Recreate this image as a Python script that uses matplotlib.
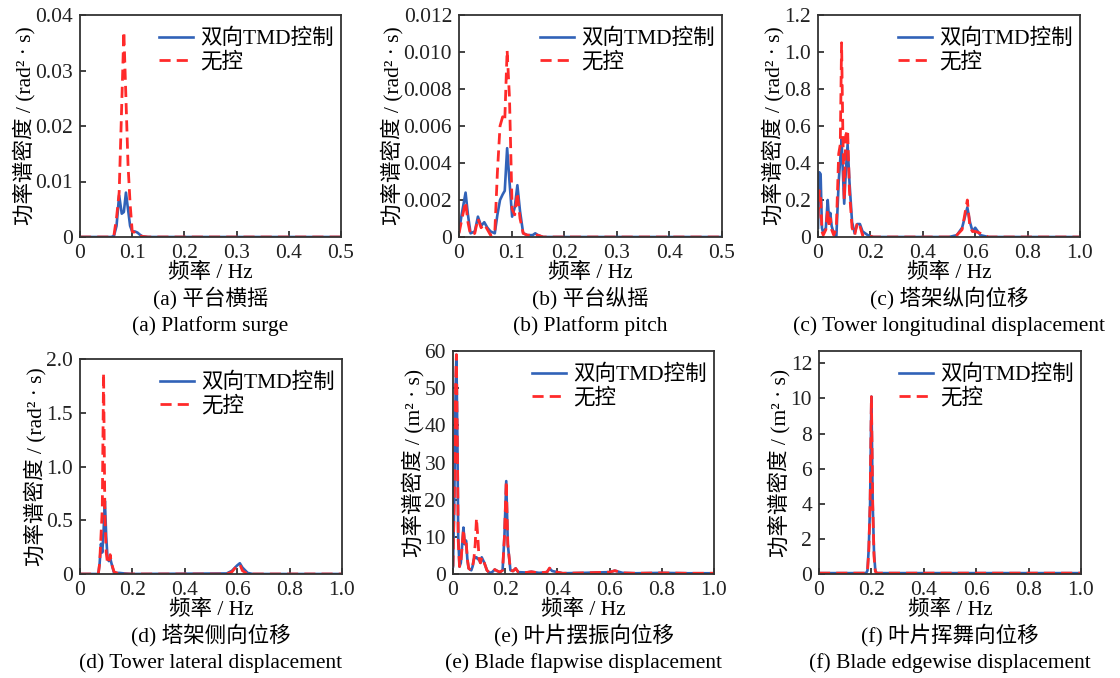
import numpy as np
import matplotlib
matplotlib.use("Agg")
import matplotlib.pyplot as plt

plt.rcParams['font.family'] = ['Liberation Serif', 'Noto Sans CJK SC']
plt.rcParams['axes.unicode_minus'] = False

# ---- 数据 ----
# (a) 平台横摇
fa = [0, 0.06, 0.065, 0.07, 0.075, 0.08, 0.084, 0.088, 0.092, 0.096, 0.1, 0.105, 0.11, 0.115, 0.12, 0.13, 0.5]
a_tmd = [0, 0, 0.0002, 0.002, 0.0075, 0.0042, 0.0045, 0.008, 0.005, 0.002, 0.001, 0.001, 0.0008, 0.0004, 0.0001, 0, 0]
a_unc = [0, 0, 0.0003, 0.0035, 0.008, 0.024, 0.037, 0.025, 0.013, 0.006, 0.001, 0.0008, 0.0004, 0.0002, 0.0001, 0, 0]

# (b) 平台纵摇
fb = [0, 0.005, 0.0125, 0.017, 0.022, 0.03, 0.036, 0.042, 0.048, 0.054, 0.06, 0.068, 0.073, 0.078, 0.083, 0.087,
      0.0915, 0.096, 0.101, 0.106, 0.111, 0.116, 0.122, 0.13, 0.14, 0.145, 0.15, 0.16, 0.5]
b_tmd = [0.0003, 0.0012, 0.0024, 0.0012, 0.0002, 0.0003, 0.0011, 0.0006, 0.0008, 0.0005, 0.0003, 0.0002, 0.0012, 0.002, 0.0023,
         0.0025, 0.0048, 0.003, 0.0011, 0.0016, 0.0028, 0.0014, 0.0002, 0.0001, 0.0001, 0.0002, 0.0001, 0, 0]
b_unc = [0.0002, 0.0009, 0.0019, 0.0008, 0.0001, 0.0002, 0.001, 0.0005, 0.0007, 0.0004, 0.0001, 0.0002, 0.0035, 0.006, 0.0065,
         0.0063, 0.0101, 0.0075, 0.0015, 0.0012, 0.0024, 0.001, 0.0002, 0.0001, 0.0001, 0.0001, 0.0001, 0, 0]

# (c) 塔架纵向位移
fc = [0, 0.005, 0.01, 0.015, 0.02, 0.03, 0.037, 0.042, 0.047, 0.052, 0.06, 0.07, 0.079, 0.085, 0.09, 0.095, 0.1,
      0.106, 0.113, 0.12, 0.13, 0.14, 0.15, 0.16, 0.17, 0.19, 0.21, 0.5, 0.53, 0.55, 0.57, 0.58, 0.59, 0.6, 0.62, 0.65, 1.0]
c_tmd = [0.05, 0.35, 0.34, 0.05, 0.02, 0.05, 0.2, 0.1, 0.13, 0.06, 0.02, 0.0, 0.3, 0.42, 0.53, 0.35, 0.18,
         0.35, 0.5, 0.3, 0.08, 0.02, 0.07, 0.07, 0.03, 0.01, 0, 0, 0.01, 0.05, 0.16, 0.08, 0.03, 0.05, 0.01, 0, 0]
c_unc = [0.1, 0.25, 0.22, 0.03, 0.01, 0.04, 0.15, 0.05, 0.1, 0.04, 0.01, 0.05, 0.45, 0.5, 1.05, 0.55, 0.2,
         0.55, 0.58, 0.25, 0.05, 0.01, 0.08, 0.06, 0.01, 0.01, 0, 0, 0.01, 0.04, 0.2, 0.05, 0.03, 0.03, 0.02, 0, 0]

# (d) 塔架侧向位移
fd = [0, 0.07, 0.075, 0.08, 0.085, 0.09, 0.095, 0.1, 0.105, 0.11, 0.115, 0.12, 0.13, 0.15, 0.17, 0.2,
      0.56, 0.58, 0.6, 0.61, 0.62, 0.64, 0.66, 1.0]
d_tmd = [0, 0, 0.1, 0.28, 0.2, 0.4, 0.68, 0.35, 0.15, 0.12, 0.15, 0.1, 0.01, 0.01, 0.005, 0,
         0.005, 0.03, 0.08, 0.1, 0.06, 0.01, 0, 0]
d_unc = [0, 0, 0.1, 0.35, 0.6, 1.87, 0.55, 0.2, 0.1, 0.1, 0.18, 0.1, 0.02, 0, 0, 0,
         0, 0.02, 0.08, 0.09, 0.03, 0, 0, 0]

# (e) 叶片摆振向位移
fe = [0, 0.005, 0.01, 0.013, 0.017, 0.02, 0.025, 0.03, 0.04, 0.045, 0.05, 0.055, 0.06, 0.07, 0.075, 0.08, 0.085, 0.09,
      0.095, 0.1, 0.105, 0.11, 0.12, 0.13, 0.14, 0.15, 0.16, 0.17, 0.18, 0.19, 0.197, 0.204, 0.21, 0.22, 0.23, 0.24,
      0.25, 0.28, 0.3, 0.33, 0.36, 0.37, 0.38, 0.4, 0.42, 0.5, 0.6, 0.62, 0.65, 0.7, 0.8, 0.9, 1.0]
e_tmd = [2, 20, 50, 59, 35, 10, 2, 3, 12.5, 8, 9, 4, 1.5, 1, 2, 4, 4.5, 4.5,
         4, 4, 3, 4.5, 3, 1, 0.3, 0.5, 1.2, 0.8, 0.5, 1, 10, 25, 8, 1, 0.8, 1.5,
         0.5, 0.4, 0.6, 0.3, 0.5, 1.5, 0.8, 0.5, 0.2, 0.3, 0.5, 0.9, 0.3, 0.2, 0.3, 0.2, 0.2]
e_unc = [2, 21, 51, 59, 34, 9, 2, 3, 12, 8, 9, 4, 1.5, 1, 2, 4, 8, 15,
         10, 4, 3, 4.5, 3, 1, 0.3, 0.5, 1.2, 0.8, 0.5, 1, 10, 25, 8, 1, 0.8, 1.5,
         0.5, 0.4, 0.6, 0.3, 0.5, 1.6, 0.8, 0.5, 0.2, 0.3, 0.5, 0.9, 0.3, 0.2, 0.3, 0.2, 0.2]

# (f) 叶片挥舞向位移
ff = [0, 0.18, 0.185, 0.19, 0.195, 0.2, 0.205, 0.21, 0.215, 0.22, 1.0]
f_tmd = [0.05, 0.05, 0.2, 1.5, 4, 10.1, 4, 1.2, 0.2, 0.05, 0.05]
f_unc = [0.05, 0.05, 0.15, 1.3, 4, 10.1, 4, 1.0, 0.15, 0.05, 0.05]

xt_half = [0, 0.1, 0.2, 0.3, 0.4, 0.5]
xl_half = ["0", "0.1", "0.2", "0.3", "0.4", "0.5"]
xt_one = [0, 0.2, 0.4, 0.6, 0.8, 1.0]
xl_one = ["0", "0.2", "0.4", "0.6", "0.8", "1.0"]

panels = [
    (fa, a_tmd, a_unc, 0.5, xt_half, xl_half, 0.04, [0, 0.01, 0.02, 0.03, 0.04], ["0", "0.01", "0.02", "0.03", "0.04"],
     "功率谱密度 / (rad² · s)", "(a) 平台横摇", "(a) Platform surge"),
    (fb, b_tmd, b_unc, 0.5, xt_half, xl_half, 0.012, [0, 0.002, 0.004, 0.006, 0.008, 0.010, 0.012],
     ["0", "0.002", "0.004", "0.006", "0.008", "0.010", "0.012"],
     "功率谱密度 / (rad² · s)", "(b) 平台纵摇", "(b) Platform pitch"),
    (fc, c_tmd, c_unc, 1.0, xt_one, xl_one, 1.2, [0, 0.2, 0.4, 0.6, 0.8, 1.0, 1.2], ["0", "0.2", "0.4", "0.6", "0.8", "1.0", "1.2"],
     "功率谱密度 / (rad² · s)", "(c) 塔架纵向位移", "(c) Tower longitudinal displacement"),
    (fd, d_tmd, d_unc, 1.0, xt_one, xl_one, 2.0, [0, 0.5, 1.0, 1.5, 2.0], ["0", "0.5", "1.0", "1.5", "2.0"],
     "功率谱密度 / (rad² · s)", "(d) 塔架侧向位移", "(d) Tower lateral displacement"),
    (fe, e_tmd, e_unc, 1.0, xt_one, xl_one, 60, [0, 10, 20, 30, 40, 50, 60], ["0", "10", "20", "30", "40", "50", "60"],
     "功率谱密度 / (m² · s)", "(e) 叶片摆振向位移", "(e) Blade flapwise displacement"),
    (ff, f_tmd, f_unc, 1.0, xt_one, xl_one, 12.7, [0, 2, 4, 6, 8, 10, 12], ["0", "2", "4", "6", "8", "10", "12"],
     "功率谱密度 / (m² · s)", "(f) 叶片挥舞向位移", "(f) Blade edgewise displacement"),
]

# 坐标轴位置 (像素: 左, 上, 右, 下)
W, H = 1120, 678
boxes = [(80, 15, 341, 237), (459, 15, 722, 237), (818, 15, 1080, 237),
         (80, 359, 342, 574), (453, 351, 714, 574), (819, 351, 1081, 574)]

fig = plt.figure(figsize=(W / 100, H / 100), dpi=100)
fs = 15.5
tfs = 15.5
blue = "#3162b8"
red = "#ff2a2a"

for (x, yt, yu, xmax, xt, xl, ymax, yt_k, yl_k, ylab, cap1, cap2), (l, t, r, b) in zip(panels, boxes):
    ax = fig.add_axes([l / W, 1 - b / H, (r - l) / W, (b - t) / H])
    ax.plot(x, yt, color=blue, lw=1.9, label="双向TMD控制")
    ax.plot(x, yu, color=red, lw=2.0, ls=(0, (4, 2.2)), label="无控")
    ax.set_xlim(0, xmax)
    ax.set_ylim(0, ymax)
    ax.set_xticks(xt)
    ax.set_xticklabels(xl)
    ax.set_yticks(yt_k)
    ax.set_yticklabels(yl_k)
    ax.tick_params(direction="in", length=4, width=1.2, labelsize=tfs, colors="#222222")
    ax.tick_params(axis="x", pad=5)
    ax.tick_params(axis="y", pad=5)
    for s in ax.spines.values():
        s.set_linewidth(1.3)
        s.set_color("#333333")
    ax.set_ylabel(ylab, fontsize=fs, labelpad=0)
    ax.set_xlabel("频率 / Hz", fontsize=fs, labelpad=0)
    dy = 4 / (b - t)
    ax.legend(loc="upper right", bbox_to_anchor=(1.008, 1 - dy), frameon=False, fontsize=fs,
              handlelength=1.6, borderaxespad=0.15, labelspacing=0.12, handletextpad=0.3, borderpad=0.3)
    cx = (l + r) / 2 / W
    fig.text(cx, 1 - (b + 61) / H, cap1, ha="center", va="center", fontsize=fs)
    fig.text(cx, 1 - (b + 89) / H, cap2, ha="center", va="center", fontsize=fs)

fig.savefig("out.png", dpi=100)
